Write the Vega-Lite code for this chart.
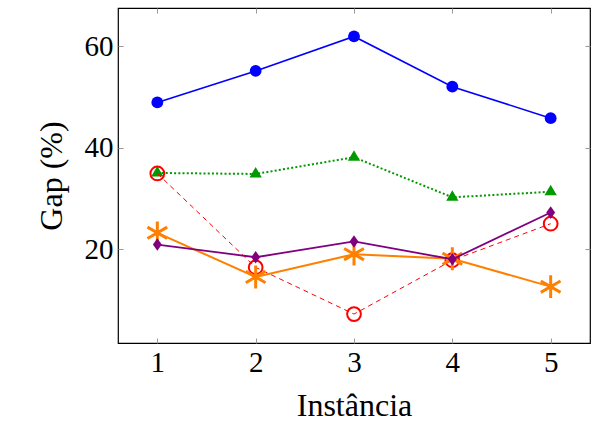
{
  "$schema": "https://vega.github.io/schema/vega-lite/v6.json",
  "autosize": {"type": "none"},
  "width": 472,
  "height": 335,
  "padding": {"left": 118, "top": 8, "right": 2, "bottom": 83},
  "background": "white",
  "config": {
    "view": {"stroke": "black", "strokeWidth": 1.2},
    "font": "Liberation Serif",
    "axis": {
      "labelFont": "Liberation Serif",
      "titleFont": "Liberation Serif",
      "labelFontSize": 29,
      "titleFontSize": 32,
      "titleFontWeight": "normal",
      "labelColor": "black",
      "titleColor": "black",
      "domain": false,
      "gridColor": "#cccccc",
      "gridWidth": 1,
      "tickColor": "#999999",
      "tickSize": -5
    }
  },
  "data": {
    "values": [
      {"inst": 1, "s": "blue", "gap": 48.9},
      {"inst": 2, "s": "blue", "gap": 55.1},
      {"inst": 3, "s": "blue", "gap": 61.9},
      {"inst": 4, "s": "blue", "gap": 52.0},
      {"inst": 5, "s": "blue", "gap": 45.8},
      {"inst": 1, "s": "green", "gap": 35.0},
      {"inst": 2, "s": "green", "gap": 34.8},
      {"inst": 3, "s": "green", "gap": 38.1},
      {"inst": 4, "s": "green", "gap": 30.2},
      {"inst": 5, "s": "green", "gap": 31.3},
      {"inst": 1, "s": "red", "gap": 34.9},
      {"inst": 2, "s": "red", "gap": 16.4},
      {"inst": 3, "s": "red", "gap": 7.2},
      {"inst": 4, "s": "red", "gap": 17.8},
      {"inst": 5, "s": "red", "gap": 25.0},
      {"inst": 1, "s": "orange", "gap": 23.2},
      {"inst": 2, "s": "orange", "gap": 14.5},
      {"inst": 3, "s": "orange", "gap": 19.0},
      {"inst": 4, "s": "orange", "gap": 18.1},
      {"inst": 5, "s": "orange", "gap": 12.6},
      {"inst": 1, "s": "purple", "gap": 20.9},
      {"inst": 2, "s": "purple", "gap": 18.4},
      {"inst": 3, "s": "purple", "gap": 21.5},
      {"inst": 4, "s": "purple", "gap": 18.0},
      {"inst": 5, "s": "purple", "gap": 27.2}
    ]
  },
  "encoding": {
    "x": {"field": "inst", "type": "quantitative", "axis": null, "scale": {"domain": [0.6, 5.4], "nice": false, "zero": false}},
    "y": {"field": "gap", "type": "quantitative", "axis": null, "scale": {"domain": [1.5, 67.5], "nice": false, "zero": false}}
  },
  "resolve": {"axis": {"x": "independent", "y": "independent"}},
  "layer": [
    {
      "mark": {"type": "rule", "opacity": 0},
      "encoding": {
        "x": {"field": "inst", "type": "quantitative", "axis": {"orient": "top", "values": [1,2,3,4,5], "labels": false, "grid": false, "title": null}},
        "y": {"field": "gap", "type": "quantitative", "axis": {"orient": "right", "values": [20,40,60], "labels": false, "grid": false, "title": null}}
      }
    },
    {
      "transform": [{"filter": "datum.s === 'blue'"}],
      "mark": {"type": "line", "color": "#0000ff", "strokeWidth": 1.6},
      "encoding": {
        "x": {"field": "inst", "type": "quantitative", "axis": {"values": [1,2,3,4,5], "title": "Instância", "labelPadding": 10, "titlePadding": 13, "format": "d"}},
        "y": {"field": "gap", "type": "quantitative", "axis": {"values": [20,40,60], "title": "Gap (%)", "labelPadding": 10, "titlePadding": 16}}
      }
    },
    {
      "transform": [{"filter": "datum.s === 'blue'"}],
      "mark": {"type": "point", "shape": "circle", "filled": true, "opacity": 1, "color": "#0000ff", "size": 140},
      "encoding": {}
    },
    {
      "transform": [{"filter": "datum.s === 'green'"}],
      "mark": {"type": "line", "color": "#009900", "strokeWidth": 2, "strokeDash": [2, 2.2]},
      "encoding": {}
    },
    {
      "transform": [{"filter": "datum.s === 'green'"}],
      "mark": {"type": "point", "shape": "M0,-1L0.87,0.5L-0.87,0.5Z", "filled": true, "opacity": 1, "color": "#009900", "size": 200},
      "encoding": {}
    },
    {
      "transform": [{"filter": "datum.s === 'red'"}],
      "mark": {"type": "line", "color": "#ff0000", "strokeWidth": 1, "strokeDash": [5, 4]},
      "encoding": {}
    },
    {
      "transform": [{"filter": "datum.s === 'red'"}],
      "mark": {"type": "point", "shape": "circle", "filled": false, "opacity": 1, "color": "#ff0000", "strokeWidth": 2, "size": 190},
      "encoding": {}
    },
    {
      "transform": [{"filter": "datum.s === 'orange'"}],
      "mark": {"type": "line", "color": "#ff8000", "strokeWidth": 2},
      "encoding": {}
    },
    {
      "transform": [{"filter": "datum.s === 'orange'"}],
      "mark": {"type": "point", "shape": "M0,-1L0,1M-0.866,-0.5L0.866,0.5M-0.866,0.5L0.866,-0.5", "filled": false, "opacity": 1, "color": "#ff8000", "strokeWidth": 3, "size": 520},
      "encoding": {}
    },
    {
      "transform": [{"filter": "datum.s === 'purple'"}],
      "mark": {"type": "line", "color": "#800080", "strokeWidth": 1.8},
      "encoding": {}
    },
    {
      "transform": [{"filter": "datum.s === 'purple'"}],
      "mark": {"type": "point", "shape": "M0,-1L0.7,0L0,1L-0.7,0Z", "filled": true, "opacity": 1, "color": "#800080", "size": 160},
      "encoding": {}
    }
  ]
}
